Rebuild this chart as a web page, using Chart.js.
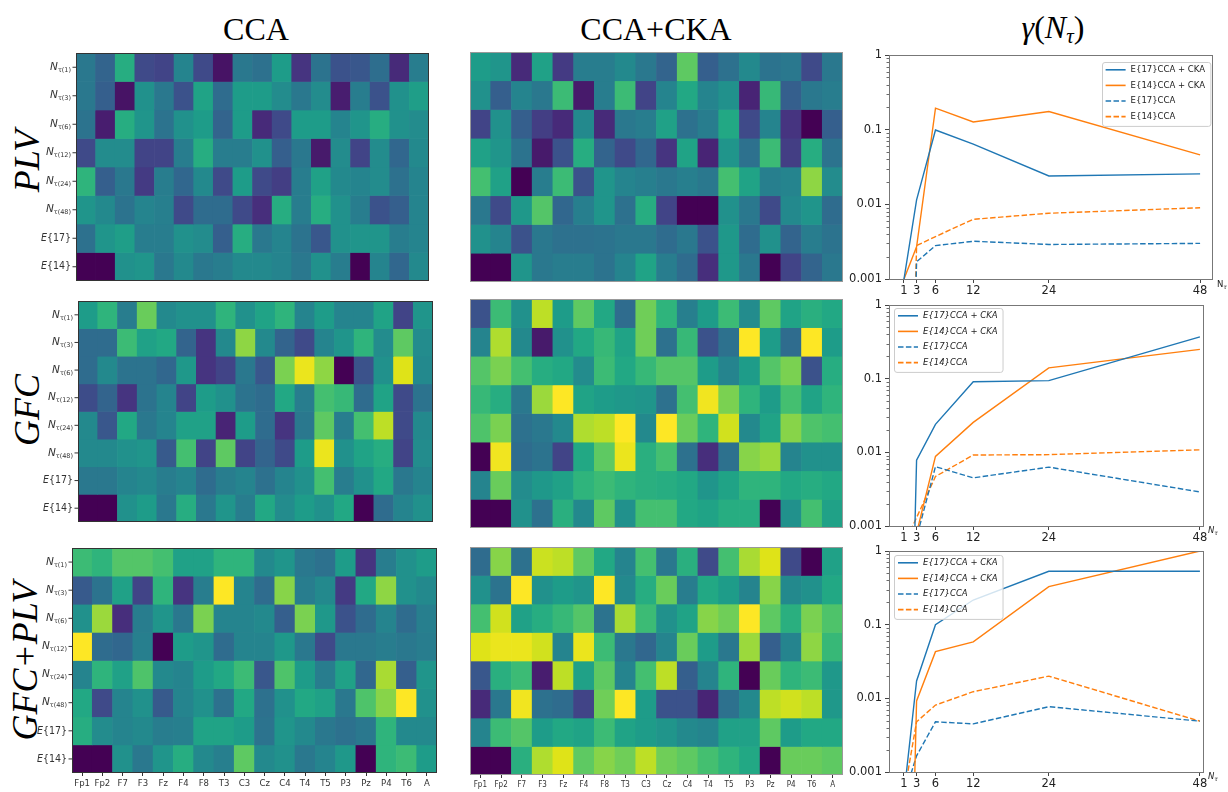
<!DOCTYPE html>
<html>
<head>
<meta charset="utf-8">
<script src="https://cdn.jsdelivr.net/npm/chart.js@4.4.0/dist/chart.umd.min.js"></script>
<style>
  html, body { margin: 0; padding: 0; background: #fff; }
  #fig { position: relative; width: 1228px; height: 792px; overflow: hidden; background: #fff; }
  .box { position: absolute; }
  .box canvas { display: block; }
  .title { position: absolute; font-family: "Liberation Serif", "DejaVu Serif", serif; font-size: 32px;
           color: #000; white-space: nowrap; line-height: 1; transform: translate(-50%, -50%); }
  .title sub { font-size: 21px; vertical-align: -0.28em; }
  .rowlab { position: absolute; font-family: "Liberation Serif", "DejaVu Serif", serif; font-style: italic;
            font-size: 36px; color: #000; white-space: nowrap; line-height: 1;
            transform: translate(-50%, -50%) rotate(-90deg); }
</style>
</head>
<body>
<div id="fig">
  <div class="title" style="left:256px; top:29px">CCA</div>
  <div class="title" style="left:656px; top:29px">CCA+CKA</div>
  <div class="title" style="left:1053px; top:29px"><i>γ</i>(<i>N</i><sub><i>τ</i></sub>)</div>
  <div class="rowlab" style="left:27px; top:161px">PLV</div>
  <div class="rowlab" style="left:27px; top:410px">GFC</div>
  <div class="rowlab" style="left:25px; top:661px">GFC+PLV</div>
</div>
<script>
// ---------- heatmap data ----------
const channels = ['Fp1','Fp2','F7','F3','Fz','F4','F8','T3','C3','Cz','C4','T4','T5','P3','Pz','P4','T6','A'];
const rowLabels = ['Nτ(1)','Nτ(3)','Nτ(6)','Nτ(12)','Nτ(24)','Nτ(48)','E{17}','E{14}'];

const plvCCA = [
  [0.40,0.32,0.62,0.22,0.20,0.45,0.22,0.05,0.40,0.37,0.55,0.15,0.38,0.25,0.27,0.36,0.12,0.42],
  [0.40,0.30,0.05,0.50,0.40,0.25,0.58,0.35,0.55,0.55,0.48,0.40,0.48,0.08,0.42,0.25,0.50,0.56],
  [0.38,0.08,0.62,0.52,0.38,0.50,0.55,0.32,0.55,0.12,0.22,0.55,0.55,0.45,0.52,0.62,0.50,0.48],
  [0.22,0.48,0.48,0.20,0.20,0.42,0.62,0.42,0.42,0.50,0.30,0.40,0.07,0.48,0.20,0.48,0.33,0.47],
  [0.65,0.30,0.40,0.17,0.42,0.33,0.47,0.22,0.55,0.22,0.18,0.42,0.57,0.47,0.45,0.48,0.37,0.45],
  [0.52,0.47,0.38,0.45,0.43,0.22,0.35,0.35,0.22,0.13,0.62,0.42,0.62,0.50,0.42,0.25,0.30,0.45],
  [0.37,0.52,0.56,0.42,0.42,0.50,0.48,0.30,0.62,0.40,0.45,0.38,0.27,0.50,0.52,0.52,0.42,0.45],
  [0.00,0.00,0.50,0.52,0.40,0.47,0.40,0.42,0.47,0.47,0.45,0.40,0.50,0.42,0.00,0.45,0.33,0.47]
];
const plvCKA = [
  [0.55,0.52,0.12,0.57,0.17,0.42,0.42,0.47,0.40,0.32,0.75,0.30,0.37,0.47,0.38,0.40,0.22,0.40],
  [0.50,0.30,0.45,0.40,0.68,0.07,0.42,0.68,0.20,0.45,0.60,0.45,0.50,0.10,0.67,0.30,0.40,0.42],
  [0.20,0.50,0.30,0.18,0.12,0.47,0.12,0.40,0.42,0.57,0.37,0.42,0.60,0.22,0.45,0.15,0.00,0.30],
  [0.57,0.52,0.38,0.07,0.25,0.62,0.32,0.22,0.33,0.15,0.58,0.10,0.52,0.37,0.68,0.18,0.62,0.38],
  [0.70,0.57,0.00,0.42,0.68,0.25,0.52,0.45,0.43,0.40,0.43,0.40,0.70,0.58,0.43,0.45,0.83,0.48],
  [0.40,0.22,0.53,0.73,0.33,0.43,0.52,0.37,0.62,0.20,0.00,0.00,0.50,0.40,0.22,0.47,0.52,0.35],
  [0.50,0.45,0.25,0.40,0.37,0.37,0.38,0.40,0.40,0.35,0.40,0.25,0.53,0.35,0.50,0.32,0.42,0.38],
  [0.00,0.00,0.52,0.40,0.42,0.42,0.38,0.45,0.58,0.42,0.35,0.13,0.53,0.40,0.00,0.20,0.32,0.40]
];
const gfcCCA = [
  [0.55,0.65,0.42,0.77,0.47,0.50,0.50,0.65,0.50,0.58,0.65,0.45,0.55,0.45,0.45,0.58,0.20,0.52],
  [0.35,0.35,0.68,0.57,0.60,0.32,0.15,0.47,0.83,0.47,0.32,0.22,0.45,0.52,0.65,0.48,0.75,0.48],
  [0.35,0.47,0.38,0.38,0.33,0.53,0.15,0.20,0.40,0.27,0.80,0.97,0.83,0.00,0.25,0.50,0.95,0.47],
  [0.23,0.32,0.15,0.38,0.45,0.20,0.55,0.50,0.38,0.35,0.60,0.42,0.70,0.67,0.35,0.58,0.22,0.38],
  [0.47,0.27,0.60,0.40,0.45,0.57,0.57,0.10,0.55,0.35,0.15,0.40,0.75,0.42,0.70,0.90,0.22,0.47],
  [0.47,0.47,0.50,0.52,0.28,0.70,0.20,0.75,0.20,0.32,0.22,0.55,0.97,0.50,0.58,0.62,0.20,0.48],
  [0.40,0.40,0.45,0.47,0.42,0.45,0.35,0.42,0.45,0.37,0.45,0.50,0.70,0.42,0.50,0.60,0.40,0.45],
  [0.00,0.00,0.50,0.55,0.40,0.62,0.40,0.52,0.42,0.60,0.48,0.55,0.50,0.60,0.00,0.35,0.45,0.50]
];
const gfcCKA = [
  [0.25,0.68,0.50,0.90,0.55,0.75,0.60,0.35,0.78,0.65,0.43,0.55,0.68,0.48,0.75,0.58,0.63,0.60],
  [0.45,0.88,0.47,0.07,0.50,0.60,0.67,0.58,0.78,0.37,0.67,0.25,0.37,1.00,0.55,0.35,1.00,0.55],
  [0.73,0.80,0.70,0.62,0.60,0.48,0.68,0.60,0.67,0.73,0.73,0.55,0.45,0.55,0.73,0.80,0.25,0.62],
  [0.67,0.62,0.40,0.85,1.00,0.58,0.55,0.53,0.52,0.37,0.70,0.98,0.80,0.65,0.55,0.70,0.58,0.65],
  [0.72,0.80,0.37,0.40,0.47,0.88,0.90,1.00,0.47,1.00,0.77,0.65,0.93,0.47,0.58,0.82,0.72,0.70],
  [0.00,0.98,0.35,0.38,0.20,0.60,0.75,0.97,0.63,0.70,0.37,0.13,0.37,0.82,0.85,0.45,0.50,0.50],
  [0.45,0.77,0.48,0.53,0.57,0.65,0.68,0.65,0.63,0.62,0.60,0.52,0.58,0.65,0.65,0.60,0.62,0.60],
  [0.00,0.00,0.50,0.37,0.63,0.47,0.75,0.50,0.70,0.70,0.60,0.58,0.62,0.62,0.00,0.50,0.70,0.57]
];
const bothCCA = [
  [0.68,0.65,0.73,0.73,0.70,0.57,0.57,0.65,0.65,0.47,0.52,0.40,0.37,0.55,0.15,0.42,0.50,0.55],
  [0.28,0.38,0.57,0.20,0.65,0.15,0.42,1.00,0.45,0.35,0.82,0.42,0.47,0.17,0.60,0.83,0.50,0.47],
  [0.50,0.85,0.13,0.42,0.52,0.40,0.80,0.45,0.45,0.47,0.30,0.80,0.53,0.25,0.35,0.45,0.35,0.43],
  [1.00,0.35,0.33,0.43,0.00,0.55,0.52,0.35,0.45,0.45,0.53,0.40,0.22,0.40,0.40,0.42,0.40,0.42],
  [0.45,0.65,0.57,0.72,0.47,0.45,0.55,0.60,0.68,0.27,0.72,0.55,0.42,0.57,0.33,0.87,0.30,0.52],
  [0.60,0.22,0.45,0.50,0.28,0.45,0.50,0.37,0.60,0.37,0.50,0.60,0.57,0.40,0.72,0.82,1.00,0.50],
  [0.62,0.48,0.45,0.47,0.42,0.43,0.58,0.58,0.55,0.38,0.52,0.47,0.40,0.37,0.40,0.65,0.47,0.47],
  [0.00,0.00,0.50,0.40,0.52,0.62,0.47,0.43,0.75,0.47,0.50,0.40,0.45,0.53,0.00,0.65,0.68,0.55]
];
const bothCKA = [
  [0.35,0.82,0.37,0.92,0.90,0.75,0.60,0.45,0.70,0.40,0.63,0.22,0.70,0.87,0.95,0.22,0.00,0.57],
  [0.50,0.38,1.00,0.50,0.55,0.52,1.00,0.47,0.62,0.77,0.42,0.60,0.55,0.45,0.82,0.47,0.50,0.60],
  [0.70,0.93,0.57,0.62,0.67,0.73,0.38,0.87,0.68,0.50,0.58,0.82,0.78,1.00,0.75,0.63,0.80,0.72],
  [0.95,0.97,0.97,0.93,0.45,0.97,0.68,0.40,0.33,0.45,0.77,0.55,0.40,0.85,0.30,0.45,0.83,0.67],
  [0.27,0.63,0.68,0.08,0.90,0.57,0.75,0.45,0.70,0.90,0.30,0.45,0.65,0.00,0.77,0.65,0.68,0.53],
  [0.12,0.40,0.98,0.37,0.35,0.20,0.78,1.00,0.55,0.25,0.25,0.10,0.37,0.47,0.90,0.93,0.90,0.53],
  [0.45,0.68,0.73,0.55,0.60,0.58,0.68,0.58,0.55,0.52,0.47,0.45,0.57,0.57,0.75,0.55,0.60,0.60],
  [0.00,0.00,0.63,0.88,0.95,0.75,0.82,0.78,0.90,0.78,0.75,0.70,0.65,0.60,0.00,0.77,0.77,0.75]
];

// ---------- gamma(N_tau) data ----------
const nTau = [1, 3, 6, 12, 24, 48];
const yTicks = [1, 0.1, 0.01, 0.001];
const seriesLabels = ['E{17}CCA + CKA', 'E{14}CCA + CKA', 'E{17}CCA', 'E{14}CCA'];

const plvE17CKA = [0.001, 0.0115, 0.099, 0.064, 0.024, 0.0256];
const plvE14CKA = [0.001, 0.0027, 0.194, 0.127, 0.175, 0.046];
const plvE17CCA = [0, 0.0017, 0.0028, 0.0032, 0.0029, 0.0030];
const plvE14CCA = [0, 0.0028, 0.0037, 0.0063, 0.0076, 0.0090];

const gfcE17CKA = [0, 0.0078, 0.024, 0.091, 0.094, 0.37];
const gfcE14CKA = [0, 0.0008, 0.0088, 0.0255, 0.14, 0.25];
const gfcE17CCA = [0, 0.0007, 0.0064, 0.0045, 0.0063, 0.0029];
const gfcE14CCA = [0.00055, 0.0013, 0.0047, 0.0092, 0.0093, 0.0108];

const bothE17CKA = [0.0005, 0.0172, 0.100, 0.216, 0.53, 0.53];
const bothE14CKA = [0, 0.0092, 0.043, 0.0585, 0.328, 1.0];
const bothE17CCA = [0.00047, 0.00166, 0.0048, 0.0045, 0.0077, 0.0049];
const bothE14CCA = [0.0005, 0.0048, 0.0081, 0.0123, 0.020, 0.0049];

// ---------- helpers ----------
const BLUE = '#1f77b4', ORANGE = '#ff7f0e';
const SANS = '"DejaVu Sans", "Liberation Sans", sans-serif';
const NARROW = '"DejaVu Sans Condensed", "Liberation Sans", sans-serif';

const VIRIDIS = ['#440154','#471365','#482475','#463480','#414487','#3b528b','#355f8d','#2f6c8e',
  '#2a788e','#25848e','#21918c','#1e9c89','#22a884','#2fb47c','#44bf70','#5ec962','#7ad151',
  '#9bd93c','#bddf26','#dfe318','#fde725'];
function hex(c) { return [1, 3, 5].map(i => parseInt(c.substr(i, 2), 16)); }
function viridis(t) {
  t = Math.min(1, Math.max(0, t));
  const f = t * (VIRIDIS.length - 1), i = Math.min(VIRIDIS.length - 2, Math.floor(f)), u = f - i;
  const a = hex(VIRIDIS[i]), b = hex(VIRIDIS[i + 1]);
  const c = a.map((v, k) => Math.round(v + (b[k] - v) * u));
  return `rgb(${c[0]},${c[1]},${c[2]})`;
}

function makeBox(left, top, width, height) {
  const div = document.createElement('div');
  div.className = 'box';
  Object.assign(div.style, { left: left + 'px', top: top + 'px', width: width + 'px', height: height + 'px' });
  const cv = document.createElement('canvas');
  cv.width = width; cv.height = height;
  div.appendChild(cv);
  document.getElementById('fig').appendChild(div);
  return cv;
}

// frame + row tick labels (N with subscript, E{..}) for the heatmaps
const heatDecor = {
  id: 'heatDecor',
  afterDraw(chart, args, o) {
    const { ctx, chartArea: a } = chart;
    ctx.save();
    ctx.strokeStyle = o.frame; ctx.lineWidth = 1;
    ctx.strokeRect(Math.round(a.left) + 0.5, Math.round(a.top) + 0.5,
                   Math.round(a.right - a.left) - 1, Math.round(a.bottom - a.top) - 1);
    if (o.rows) {
      const ys = chart.scales.y;
      ctx.fillStyle = '#333'; ctx.strokeStyle = '#333';
      ctx.textBaseline = 'middle'; ctx.textAlign = 'right';
      rowLabels.forEach((lab, i) => {
        const y = ys.getPixelForValue(i + 0.5);
        ctx.beginPath(); ctx.moveTo(a.left - 3.5, y); ctx.lineTo(a.left, y); ctx.stroke();
        const x = a.left - 5;
        if (lab.startsWith('N')) {
          const sub = lab.slice(1);
          ctx.font = '6.5px ' + SANS;
          ctx.fillText(sub, x, y + 3);
          const w = ctx.measureText(sub).width;
          ctx.font = 'italic 10.5px ' + SANS;
          ctx.fillText('N', x - w, y);
        } else {
          const rest = lab.slice(1);
          ctx.font = '10.5px ' + NARROW;
          ctx.fillText(rest, x, y);
          const w = ctx.measureText(rest).width;
          ctx.font = 'italic 10.5px ' + NARROW;
          ctx.fillText(lab[0], x - w, y);
        }
      });
    }
    ctx.restore();
  }
};

function heatmap(values, area, opt) {
  const padL = opt.rows ? 72 : 3, padT = 3, padR = 3;
  const xH = opt.xFont ? 16 : 0, padB = opt.xFont ? 0 : 3;
  const W = area.r - area.l + padL + padR;
  const H = area.b - area.t + padT + padB + xH;
  const cv = makeBox(area.l - padL, area.t - padT, W, H);
  const datasets = values.map((row, r) => ({
    data: row.map(() => [r, r + 1]),
    backgroundColor: row.map(v => viridis(v)),
    borderWidth: 0, barPercentage: 1, categoryPercentage: 1, grouped: false
  }));
  new Chart(cv, {
    type: 'bar',
    data: { labels: channels, datasets },
    options: {
      responsive: false, animation: false, events: [],
      layout: { padding: { left: padL, top: padT, right: padR, bottom: padB } },
      plugins: { legend: { display: false }, tooltip: { enabled: false },
                 heatDecor: { frame: opt.frame, rows: !!opt.rows } },
      scales: {
        x: {
          type: 'category', offset: true, display: !!opt.xFont,
          grid: { display: true, drawOnChartArea: false, drawTicks: true, tickLength: 3, offset: false, color: '#333' },
          border: { display: false },
          ticks: { autoSkip: false, maxRotation: 0, padding: 2, color: '#333',
                   font: { family: NARROW, size: opt.xFont || 9 } },
          afterFit(s) { s.height = xH; }
        },
        y: { type: 'linear', min: 0, max: 8, reverse: true, display: false }
      }
    },
    plugins: [heatDecor]
  });
}

// frame, minor log ticks, x-axis name and legend for the gamma panels
const lineDecor = {
  id: 'lineDecor',
  afterDatasetsDraw(chart, args, o) {
    const { ctx, chartArea: a } = chart;
    const ys = chart.scales.y;
    ctx.save();
    // minor ticks on the log axis
    ctx.strokeStyle = '#444'; ctx.lineWidth = 0.8;
    [0.001, 0.01, 0.1].forEach(d => {
      for (let k = 2; k <= 9; k++) {
        const y = Math.round(ys.getPixelForValue(k * d)) + 0.5;
        ctx.beginPath(); ctx.moveTo(a.left - 2.5, y); ctx.lineTo(a.left, y); ctx.stroke();
      }
    });
    // axes frame
    ctx.strokeStyle = '#777'; ctx.lineWidth = 1;
    ctx.strokeRect(Math.round(a.left) + 0.5, Math.round(a.top) + 0.5,
                   Math.round(a.right - a.left) - 1, Math.round(a.bottom - a.top));
    // x-axis name N_tau
    ctx.fillStyle = '#222'; ctx.textBaseline = 'middle'; ctx.textAlign = 'left';
    const nx = a.right + 4, ny = a.bottom + o.nDy;
    ctx.font = (o.italic ? 'italic ' : '') + '8.5px ' + SANS;
    ctx.fillText('N', nx, ny);
    const nw = ctx.measureText('N').width;
    ctx.font = 'italic 6px ' + SANS;
    ctx.fillText('τ', nx + nw, ny + 2.5);
    // legend
    const ds = chart.data.datasets;
    ctx.font = (o.italic ? 'italic ' : '') + '8.5px ' + SANS;
    const tw = Math.max(...ds.map(d => ctx.measureText(d.label).width));
    const pad = 4, sample = 20, gap = 5, rowH = 15.6;
    const w = pad + sample + gap + tw + pad + 1, h = rowH * ds.length + 1.5;
    const x0 = o.corner === 'ur' ? a.right - o.dx - w : a.left + o.dx;
    const y0 = a.top + o.dy;
    ctx.beginPath();
    ctx.roundRect(Math.round(x0) + 0.5, Math.round(y0) + 0.5, w, h, 2.5);
    ctx.fillStyle = 'rgba(255,255,255,0.8)'; ctx.fill();
    ctx.strokeStyle = '#cccccc'; ctx.lineWidth = 1; ctx.stroke();
    ds.forEach((d, i) => {
      const y = y0 + 7.8 + i * rowH;
      ctx.strokeStyle = d.borderColor; ctx.lineWidth = 1.6;
      ctx.setLineDash(d.borderDash || []);
      ctx.beginPath(); ctx.moveTo(x0 + pad, y); ctx.lineTo(x0 + pad + sample, y); ctx.stroke();
      ctx.setLineDash([]);
      ctx.fillStyle = '#222';
      ctx.fillText(d.label, x0 + pad + sample + gap, y);
    });
    ctx.restore();
  }
};

function gammaChart(series, area, opt) {
  const L = 845, yW = 44, T = area.t - 12, xH = 20;
  const W = 1228 - L, H = area.b - T + xH + 2;
  const cv = makeBox(L, T, W, H);
  const cols = [BLUE, ORANGE, BLUE, ORANGE];
  const datasets = series.map((vals, i) => ({
    label: seriesLabels[i],
    // zeros sit far below the log axis floor, as in a clipped log plot
    data: nTau.map((x, j) => ({ x, y: vals[j] > 0 ? vals[j] : 1e-9 })),
    borderColor: cols[i], backgroundColor: cols[i],
    borderWidth: 1.4, borderDash: i >= 2 ? [5.5, 2.4] : [],
    pointRadius: 0, tension: 0, fill: false
  }));
  new Chart(cv, {
    type: 'line',
    data: { datasets },
    options: {
      responsive: false, animation: false, events: [],
      layout: { padding: { left: area.l - L - yW, top: area.t - T, right: L + W - area.r, bottom: 2 } },
      plugins: { legend: { display: false }, tooltip: { enabled: false },
                 lineDecor: opt },
      scales: {
        x: {
          type: 'linear', min: -1.38, max: opt.xMax,
          afterBuildTicks(s) { s.ticks = nTau.map(v => ({ value: v })); },
          ticks: { autoSkip: false, maxRotation: 0, padding: 1, color: '#222', font: { family: SANS, size: 11.5 },
                   callback: v => String(v) },
          grid: { drawOnChartArea: false, drawTicks: true, tickLength: 4, color: '#444' },
          border: { display: false },
          afterFit(s) { s.height = xH; }
        },
        y: {
          type: 'logarithmic', min: 0.001, max: 1,
          afterBuildTicks(s) { s.ticks = yTicks.map(v => ({ value: v, major: true })); },
          ticks: { autoSkip: false, padding: 3, color: '#222', font: { family: SANS, size: 11.5 },
                   callback: v => String(v) },
          grid: { drawOnChartArea: false, drawTicks: true, tickLength: 4, color: '#444' },
          border: { display: false },
          afterFit(s) { s.width = yW; }
        }
      }
    },
    plugins: [lineDecor]
  });
}

// ---------- layout ----------
heatmap(plvCCA,  { l: 76,  t: 53,  r: 429, b: 281 }, { rows: true, frame: '#333' });
heatmap(plvCKA,  { l: 470, t: 52,  r: 843, b: 282 }, { frame: '#999' });
heatmap(gfcCCA,  { l: 78,  t: 301, r: 433, b: 522 }, { rows: true, frame: '#333' });
heatmap(gfcCKA,  { l: 470, t: 299, r: 843, b: 528 }, { frame: '#999' });
heatmap(bothCCA, { l: 72,  t: 548, r: 437, b: 773 }, { rows: true, frame: '#333', xFont: 9.5 });
heatmap(bothCKA, { l: 470, t: 547, r: 843, b: 775 }, { frame: '#999', xFont: 8 });

gammaChart([plvE17CKA, plvE14CKA, plvE17CCA, plvE14CCA], { l: 889, t: 55, r: 1213, b: 279 },
  { xMax: 50.05, corner: 'ur', dx: 3, dy: 7, italic: false, nDy: 6 });
gammaChart([gfcE17CKA, gfcE14CKA, gfcE17CCA, gfcE14CCA], { l: 889, t: 305, r: 1204, b: 526 },
  { xMax: 48.65, corner: 'ul', dx: 5, dy: 3, italic: true, nDy: 5 });
gammaChart([bothE17CKA, bothE14CKA, bothE17CCA, bothE14CCA], { l: 889, t: 551, r: 1204, b: 772 },
  { xMax: 48.65, corner: 'ul', dx: 5, dy: 4, italic: true, nDy: 5 });
</script>
</body>
</html>
